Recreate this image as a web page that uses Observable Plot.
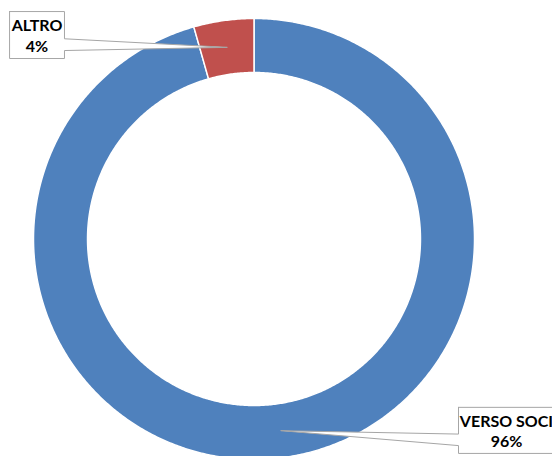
<!DOCTYPE html>
<html><head><meta charset="utf-8">
<script src="https://cdn.jsdelivr.net/npm/d3@7"></script>
<script src="https://cdn.jsdelivr.net/npm/@observablehq/plot@0.6"></script>
<style>body{margin:0;background:#fff;overflow:hidden;}</style>
</head><body><div id="chart"></div>
<script>
// Data
const categories = ["VERSO SOCI", "ALTRO"];
const values = [95.6, 4.4];
const valueLabels = ["96%", "4%"];
const colors = ["#4F81BD", "#C0504D"];

// Layout (data units, radius = 1)
const innerRatio = 0.755;
const callouts = {
  "VERSO SOCI": {cx: 1.145, cy: -0.868, w: 0.435, h: 0.209, side: "left"},
  "ALTRO": {cx: -0.984, cy: 0.925, w: 0.249, h: 0.213, side: "right"}
};

const total = d3.sum(values);
let acc = 0;
const slices = categories.map((c, i) => {
  const a0 = acc / total * 2 * Math.PI;
  acc += values[i];
  const a1 = acc / total * 2 * Math.PI;
  return {category: c, value: values[i], label: valueLabels[i], a0, a1};
});

const ringPts = [];
slices.forEach(s => {
  const n = Math.max(8, Math.ceil((s.a1 - s.a0) * 120));
  const pts = [];
  for (let k = 0; k <= n; k++) {
    const a = s.a0 + (s.a1 - s.a0) * k / n;
    pts.push({category: s.category, x: Math.sin(a), y: Math.cos(a)});
  }
  for (let k = n; k >= 0; k--) {
    const a = s.a0 + (s.a1 - s.a0) * k / n;
    pts.push({category: s.category, x: innerRatio * Math.sin(a), y: innerRatio * Math.cos(a)});
  }
  pts.push({...pts[0]});
  ringPts.push(...pts);
});

const calloutPts = [];
const textData = [];
slices.forEach(s => {
  const L = callouts[s.category];
  const am = (s.a0 + s.a1) / 2, rm = (1 + innerRatio) / 2;
  const tip = [rm * Math.sin(am), rm * Math.cos(am)];
  const x0 = L.cx - L.w / 2, x1 = L.cx + L.w / 2;
  const yt = L.cy + L.h / 2, yb = L.cy - L.h / 2;
  const ya = yt - 0.58 * L.h, yb2 = yt - 0.83 * L.h;
  let poly;
  if (L.side === "right") {
    poly = [[x0, yt], [x1, yt], [x1, ya], tip, [x1, yb2], [x1, yb], [x0, yb], [x0, yt]];
  } else {
    poly = [[x0, yt], [x1, yt], [x1, yb], [x0, yb], [x0, yb2], tip, [x0, ya], [x0, yt]];
  }
  poly.forEach(p => calloutPts.push({category: s.category, x: p[0], y: p[1]}));
  textData.push({x: L.cx, y: L.cy, text: s.category + "\n" + s.label});
});

const chart = Plot.plot({
  width: 552,
  height: 456,
  margin: 0,
  style: {background: "white", overflow: "hidden"},
  x: {domain: [-1, 1], range: [33, 474], axis: null},
  y: {domain: [-1, 1], range: [459, 18], axis: null},
  color: {domain: categories, range: colors},
  marks: [
    Plot.line(ringPts, {x: "x", y: "y", z: "category", fill: "category", stroke: "white", strokeWidth: 1.5, curve: "linear"}),
    Plot.line(calloutPts, {x: "x", y: "y", z: "category", fill: "white", stroke: "#a6a6a6", strokeWidth: 1, curve: "linear"}),
    Plot.text(textData, {x: "x", y: "y", text: "text", fontFamily: "Lato", fontWeight: "bold", fontSize: 16, lineHeight: 1.3, fill: "black"})
  ]
});
document.getElementById("chart").appendChild(chart);
</script>
</body></html>
